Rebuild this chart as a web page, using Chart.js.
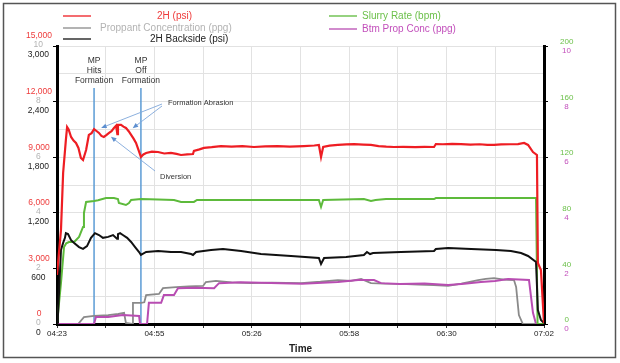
<!DOCTYPE html>
<html>
<head>
<meta charset="utf-8">
<script src="https://cdn.jsdelivr.net/npm/chart.js@4.4.1/dist/chart.umd.min.js"></script>
<style>
  html, body { margin: 0; padding: 0; background: #fff; }
  canvas { display: block; }
</style>
</head>
<body>
<canvas id="stageChart" width="620" height="363"></canvas>
<script>
// Time axis is minutes after 04:23, labelled every other gridline
const timeLabels = ['04:23', '04:55', '05:26', '05:58', '06:30', '07:02'];
const timeStep = 15.9;

// 2H treating pressure (psi)
const pressureTimes = [0, 1.3, 2.0, 2.9, 3.3, 3.8, 4.6, 5.4, 6.2, 7.0, 7.8, 8.5, 9.5, 10.4, 11.3, 12.1, 13.0, 13.7, 14.5, 15.3, 16.2, 17.0, 17.8, 18.6, 19.3, 19.7, 19.9, 20.9, 21.7, 22.5, 23.4, 24.2, 25.0, 25.8, 26.6, 27.4, 28.2, 29.1, 31.0, 33.0, 35.0, 37.2, 39.0, 40.5, 42.5, 44.4, 44.7, 46.5, 48.0, 50.5, 53.5, 57, 60.5, 64.3, 68, 72, 76, 80.6, 84, 85.5, 86.2, 86.9, 89, 91.7, 94.5, 97.0, 100, 102.5, 105, 107.5, 110, 113, 117, 120, 123.1, 123.7, 126, 129, 131.9, 135, 138, 140.5, 142.7, 145, 148, 150.5, 152.5, 153.8, 155.4, 156.7, 157.0, 158.0, 159];
const pressureValues = [2650, 5070, 8150, 9930, 10630, 10500, 10090, 9900, 9770, 9500, 8960, 8850, 9390, 10200, 10300, 10520, 10400, 10310, 10150, 10090, 10200, 10310, 10400, 10580, 10700, 10250, 10740, 10740, 10650, 10580, 10400, 10200, 10000, 9770, 9400, 9010, 9150, 9230, 9300, 9280, 9200, 9230, 9180, 9120, 9150, 9170, 9340, 9420, 9500, 9540, 9600, 9570, 9600, 9550, 9580, 9600, 9570, 9600, 9630, 9660, 9010, 9550, 9620, 9660, 9690, 9710, 9680, 9660, 9600, 9570, 9550, 9560, 9540, 9560, 9550, 9710, 9700, 9720, 9710, 9680, 9700, 9670, 9660, 9690, 9700, 9710, 9770, 9660, 9280, 9120, 3290, 2910, 50];

// 2H backside pressure (psi)
const backsideTimes = [0, 0.2, 0.7, 1.3, 2.0, 2.6, 2.9, 3.6, 4.6, 5.6, 7.2, 8.5, 9.8, 11.1, 12.4, 13.7, 15.0, 16.7, 18.3, 19.6, 19.9, 20.6, 21.5, 22.9, 24.2, 25.5, 26.8, 27.4, 29.1, 33.0, 37.2, 40.5, 43.8, 44.4, 45.4, 50.3, 54.2, 60.1, 66.6, 76.4, 85.5, 86.2, 87.2, 94.4, 100.2, 101.2, 102.2, 103.2, 112.3, 123.1, 123.7, 127.7, 135.2, 143.3, 148.2, 151.5, 153.8, 156.4, 157.0, 158.0, 159];
const backsideValues = [0, 10, 370, 800, 875, 930, 980, 970, 905, 875, 830, 810, 840, 930, 980, 960, 930, 940, 960, 920, 970, 980, 960, 930, 885, 830, 777, 745, 777, 788, 777, 777, 755, 745, 777, 798, 809, 788, 755, 734, 712, 647, 712, 723, 745, 777, 755, 766, 777, 788, 809, 820, 809, 798, 788, 766, 734, 669, 151, 43, 10];

// Slurry rate (bpm)
const rateTimes = [0, 0.3, 1.3, 2.3, 3.0, 3.9, 5.6, 7.2, 8.5, 8.8, 9.5, 12.1, 13.4, 16.0, 18.6, 19.9, 20.2, 22.5, 23.5, 24.2, 27.4, 33, 38.2, 40.5, 44.7, 45.7, 60, 75, 85.5, 86.2, 86.9, 100.2, 102.5, 104, 107.4, 115, 123.1, 123.7, 140, 156.4, 156.9, 159];
const rateValues = [0, 0, 29.5, 55.4, 58, 59, 59, 62.6, 69.8, 79.9, 87.8, 88.5, 89, 90.6, 90.6, 89.9, 87, 85.6, 87, 89.2, 89.9, 89.5, 89.2, 87.8, 87.8, 89.2, 89.2, 89.2, 89.2, 84.2, 89.2, 89.9, 88.5, 89.2, 89.9, 89.9, 89.9, 90.6, 90.6, 90.6, 0, 0];

// Proppant concentration at surface (ppg)
const concTimes = [0, 6.9, 8.8, 12.1, 16.7, 20.0, 21.9, 22.5, 24.5, 24.8, 27.4, 28.5, 29.1, 33.3, 34.6, 38.9, 43, 47.7, 48.6, 51.9, 57, 63.3, 70, 79.7, 86, 91.7, 96, 99.3, 102.5, 107, 112.3, 118, 123, 127.7, 132, 137.5, 140, 142.7, 146, 149.2, 149.9, 150.8, 152.1, 159];
const concValues = [0, 0, 0.25, 0.29, 0.32, 0.36, 0.40, 0.04, 0, 0.76, 0.76, 0.78, 1.04, 1.08, 1.29, 1.33, 1.35, 1.37, 1.51, 1.55, 1.50, 1.47, 1.49, 1.47, 1.52, 1.58, 1.55, 1.62, 1.47, 1.45, 1.44, 1.42, 1.40, 1.37, 1.45, 1.58, 1.62, 1.65, 1.6, 1.58, 1.33, 0.32, 0, 0];

// Bottomhole proppant concentration (ppg)
const btmTimes = [0, 12.1, 12.7, 16.7, 21.5, 26.8, 27.1, 29.4, 30.0, 34.0, 34.9, 38.2, 39.5, 45, 51.3, 52.9, 60, 73.1, 80, 91.7, 98.3, 103.5, 105.8, 112, 120, 127.7, 133, 138.4, 143, 147.3, 154.1, 155.4, 156.4, 159];
const btmValues = [0, 0, 0.25, 0.25, 0.32, 0.29, 0, 0, 0.76, 0.76, 1.04, 1.04, 1.29, 1.30, 1.29, 1.47, 1.50, 1.47, 1.45, 1.51, 1.58, 1.58, 1.47, 1.44, 1.46, 1.40, 1.45, 1.51, 1.55, 1.62, 1.58, 0.4, 0, 0];

// Events marked on the plot
const eventTimes = [12.1, 27.4];
const eventLabels = [['MP', 'Hits', 'Formation'], ['MP', 'Off', 'Formation']];
const abrasionTargets = [[14.4, 10580], [24.7, 10560]];
const diversionTargets = [[17.6, 10100]];

const FONT = "'Liberation Sans', Arial, Helvetica, sans-serif";
Chart.defaults.font.family = FONT;
Chart.defaults.font.size = 8.5;

function toPoints(times, values) {
    return times.map((t, i) => ({ x: t, y: values[i] }));
}

// y axes take no room in the layout; their boxes get widened after layout
function zeroWidth(scale) {
    scale.width = 0;
}

function arrow(c, x0, y0, x1, y1) {
    const ang = Math.atan2(y1 - y0, x1 - x0);
    c.beginPath();
    c.moveTo(x0, y0);
    c.lineTo(x1 - 4 * Math.cos(ang), y1 - 4 * Math.sin(ang));
    c.stroke();
    c.beginPath();
    c.moveTo(x1, y1);
    c.lineTo(x1 - 6 * Math.cos(ang - 0.4), y1 - 6 * Math.sin(ang - 0.4));
    c.lineTo(x1 - 6 * Math.cos(ang + 0.4), y1 - 6 * Math.sin(ang + 0.4));
    c.closePath();
    c.fill();
}

// legend drawn as two columns above the plot
const legendItems = [
    { index: 0, x0: 63, x1: 91, y: 16, tx: 157, color: '#ee3b3b' },
    { index: 4, x0: 63, x1: 91, y: 28, tx: 100, color: '#b3b3b3' },
    { index: 1, x0: 63, x1: 91, y: 39, tx: 150, color: '#222' },
    { index: 2, x0: 329, x1: 357, y: 16, tx: 362, color: '#6cc04a' },
    { index: 3, x0: 329, x1: 357, y: 29, tx: 362, color: '#c24fbb' }
];

const framePlugin = {
    id: 'framePlugin',
    afterLayout(chart) {
        const a = chart.chartArea;
        Object.values(chart.scales).forEach(s => {
            if (s.options.position === 'left') {
                s.left = 0;
                s.right = a.left;
                s.width = a.left;
            } else if (s.options.position === 'right') {
                s.left = a.right;
                s.right = chart.width;
                s.width = chart.width - a.right;
            }
        });
    },
    beforeDatasetsDraw(chart) {
        const { ctx: c, chartArea: a, scales: { x } } = chart;
        c.save();
        c.strokeStyle = '#5b9bd5';
        c.lineWidth = 1.5;
        eventTimes.forEach(t => {
            const px = x.getPixelForValue(t);
            c.beginPath();
            c.moveTo(px, 88);
            c.lineTo(px, a.bottom);
            c.stroke();
        });
        c.restore();
    },
    afterDraw(chart) {
        const { ctx: c, scales: { x, yPsi } } = chart;
        c.save();
        // outer frame
        c.strokeStyle = '#555';
        c.lineWidth = 1.5;
        c.strokeRect(3.5, 3.5, 612, 354);

        // legend
        c.font = '10px ' + FONT;
        c.textBaseline = 'middle';
        c.textAlign = 'left';
        legendItems.forEach(item => {
            const ds = chart.data.datasets[item.index];
            c.strokeStyle = ds.borderColor;
            c.lineWidth = 1.3;
            c.beginPath();
            c.moveTo(item.x0, item.y);
            c.lineTo(item.x1, item.y);
            c.stroke();
            c.fillStyle = item.color;
            c.fillText(ds.label, item.tx, item.y);
        });

        // event labels
        c.fillStyle = '#333';
        c.textAlign = 'center';
        c.font = '8.5px ' + FONT;
        eventTimes.forEach((t, i) => {
            const px = x.getPixelForValue(t);
            eventLabels[i].forEach((line, j) => c.fillText(line, px, 61 + j * 10));
        });

        // callouts
        c.textAlign = 'left';
        c.font = '7.5px ' + FONT;
        c.fillText('Formation Abrasion', 168, 103);
        c.fillText('Diversion', 160, 177);
        c.strokeStyle = '#7fa7da';
        c.fillStyle = '#5d8fd0';
        c.lineWidth = 0.9;
        abrasionTargets.forEach(([t, v], i) => {
            arrow(c, 162, 104 + i * 2, x.getPixelForValue(t), yPsi.getPixelForValue(v));
        });
        diversionTargets.forEach(([t, v]) => {
            arrow(c, 155, 171, x.getPixelForValue(t), yPsi.getPixelForValue(v));
        });
        c.restore();
    }
};

const ctx = document.getElementById('stageChart').getContext('2d');

new Chart(ctx, {
    type: 'line',
    data: {
        datasets: [
            { label: '2H (psi)', data: toPoints(pressureTimes, pressureValues), borderColor: '#ee1d23', borderWidth: 2.2, yAxisID: 'yPsi' },
            { label: '2H Backside (psi)', data: toPoints(backsideTimes, backsideValues), borderColor: '#111111', borderWidth: 2, yAxisID: 'yBack' },
            { label: 'Slurry Rate (bpm)', data: toPoints(rateTimes, rateValues), borderColor: '#5dba3b', borderWidth: 2, yAxisID: 'yRate' },
            { label: 'Btm Prop Conc (ppg)', data: toPoints(btmTimes, btmValues), borderColor: '#b84db2', borderWidth: 2, yAxisID: 'yBtm' },
            { label: 'Proppant Concentration (ppg)', data: toPoints(concTimes, concValues), borderColor: '#8a8a8a', borderWidth: 1.8, yAxisID: 'yConc' }
        ]
    },
    options: {
        responsive: false,
        animation: false,
        events: [],
        devicePixelRatio: 1,
        layout: { padding: { left: 57, right: 76, top: 46, bottom: 0 } },
        elements: { point: { radius: 0 }, line: { tension: 0 } },
        plugins: { legend: { display: false }, tooltip: { enabled: false } },
        scales: {
            x: {
                type: 'linear',
                min: 0,
                max: 159,
                afterBuildTicks: s => { s.ticks = timeLabels.flatMap((_, i) => i < timeLabels.length - 1 ? [2 * i, 2 * i + 1] : [2 * i]).map(k => ({ value: k * timeStep })); },
                afterFit: s => { s.height = 39; },
                ticks: {
                    autoSkip: false,
                    maxRotation: 0,
                    padding: 1,
                    color: '#222',
                    font: { size: 8 },
                    callback: (v, i) => i % 2 === 0 ? timeLabels[i / 2] : ''
                },
                grid: { color: '#e2e2e2', tickLength: 4, tickColor: '#333' },
                border: { color: '#000', width: 3 },
                title: { display: true, text: 'Time', color: '#222', font: { size: 10, weight: 'bold' }, padding: { top: 0, bottom: 8 } }
            },
            yPsi: {
                position: 'left',
                min: 0,
                max: 15000,
                afterFit: zeroWidth,
                ticks: {
                    stepSize: 1500,
                    autoSkip: false,
                    crossAlign: 'center',
                    padding: 1,
                    labelOffset: -10,
                    color: '#ee3b3b',
                    callback: v => v % 3000 === 0 ? v.toLocaleString('en-US') : ''
                },
                grid: {
                    color: '#e2e2e2',
                    tickLength: 4,
                    tickColor: c => c.tick && c.tick.value % 3000 === 0 ? '#000' : 'rgba(0,0,0,0)'
                },
                border: { color: '#000', width: 3 }
            },
            yConc: {
                position: 'left',
                min: 0,
                max: 10,
                afterFit: zeroWidth,
                ticks: { stepSize: 2, crossAlign: 'center', padding: 14, labelOffset: -1, color: '#b3b3b3' },
                grid: { drawOnChartArea: false, drawTicks: false },
                border: { display: false }
            },
            yBack: {
                position: 'left',
                min: 0,
                max: 3000,
                afterFit: zeroWidth,
                ticks: { stepSize: 600, crossAlign: 'center', padding: 8, labelOffset: 9, color: '#222', callback: v => v.toLocaleString('en-US') },
                grid: { drawOnChartArea: false, drawTicks: false },
                border: { display: false }
            },
            yRate: {
                position: 'right',
                min: 0,
                max: 200,
                afterFit: zeroWidth,
                ticks: { stepSize: 40, crossAlign: 'center', padding: 12, labelOffset: -4, color: '#6cc04a', font: { size: 8 } },
                grid: { drawOnChartArea: false, tickLength: 4, tickColor: '#000' },
                border: { color: '#000', width: 3 }
            },
            yBtm: {
                position: 'right',
                min: 0,
                max: 10,
                afterFit: zeroWidth,
                ticks: { stepSize: 2, crossAlign: 'center', padding: 18, labelOffset: 5, color: '#c24fbb', font: { size: 8 } },
                grid: { drawOnChartArea: false, drawTicks: false },
                border: { display: false }
            }
        }
    },
    plugins: [framePlugin]
});
</script>
</body>
</html>
